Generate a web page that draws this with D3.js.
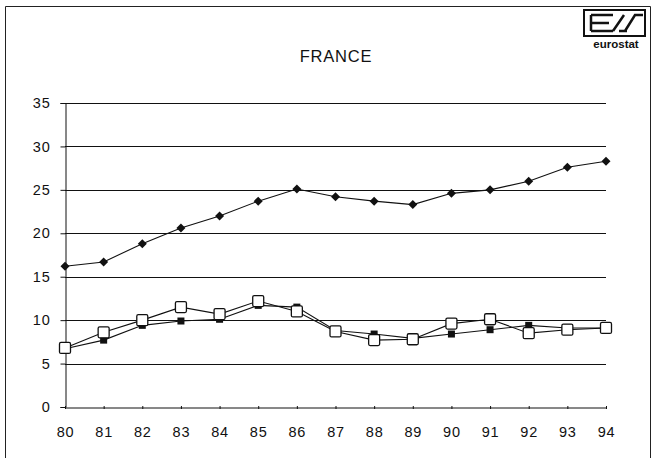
<!DOCTYPE html>
<html><head><meta charset="utf-8">
<script src="https://cdn.jsdelivr.net/npm/d3@7"></script>
<style>body{margin:0;background:#fff}svg{display:block}text{font-family:"Liberation Sans",Arial,sans-serif;fill:#111}</style>
</head><body>
<svg id="c" width="652" height="458"></svg>
<script>
const years = ["80","81","82","83","84","85","86","87","88","89","90","91","92","93","94"];
const seriesDiamond = [16.2,16.7,18.8,20.6,22.0,23.7,25.1,24.2,23.7,23.3,24.6,25.0,26.0,27.6,28.3];
const seriesFilled = [6.7,7.7,9.4,9.9,10.1,11.7,11.5,8.8,8.4,7.9,8.4,8.9,9.4,9.1,9.1];
const seriesOpen = [6.8,8.6,10.0,11.5,10.7,12.2,11.0,8.7,7.7,7.8,9.6,10.1,8.5,8.9,9.1];
const yTicks = [0,5,10,15,20,25,30,35];
const title = "FRANCE";

const svg = d3.select("#c");
const x = d3.scalePoint().domain(years).range([65, 606]);
const y = d3.scaleLinear().domain([0,35]).range([407, 103]);
const FONT = "'Liberation Sans',Arial,sans-serif";

// frame
svg.append("path").attr("d","M5.5,458 V6.5 H650.5 V458").attr("fill","none").attr("stroke","#222").attr("stroke-width",1);

// title
svg.append("text").attr("x",336).attr("y",62).attr("text-anchor","middle").attr("font-size",16.5)
  .attr("letter-spacing",0.8).text(title);

// gridlines
svg.append("g").selectAll("line").data(yTicks.filter(d=>d>0)).join("line")
  .attr("x1",65).attr("x2",606).attr("y1",d=>Math.round(y(d))+0.5).attr("y2",d=>Math.round(y(d))+0.5)
  .attr("stroke","#111").attr("stroke-width",1);

// y axis
const yAxis = d3.axisLeft(y).tickValues(yTicks).tickSize(5).tickPadding(10).tickFormat(d3.format("d"));
const gy = svg.append("g").attr("transform","translate(65.5,0)").call(yAxis);
gy.select(".domain").attr("stroke","#111");
gy.selectAll("line").attr("stroke","#111");
gy.selectAll("text").attr("font-size",14.5).attr("fill","#111").attr("letter-spacing",0.8).style("font-family",FONT);

// x axis
const xAxis = d3.axisBottom(x).tickSize(3).tickSizeOuter(0).tickPadding(16);
const gx = svg.append("g").attr("transform","translate(0,"+(Math.round(y(0))+0.5)+")").call(xAxis);
gx.select(".domain").attr("stroke","#111");
gx.selectAll(".tick line").attr("stroke","#111").attr("y1",-1.5).attr("y2",1.5);
gx.selectAll("text").attr("font-size",14.5).attr("fill","#111").attr("letter-spacing",0.8).style("font-family",FONT);

const line = d3.line().x((d,i)=>x(years[i])).y(d=>y(d));
function drawLine(data){
  svg.append("path").datum(data).attr("d",line).attr("fill","none").attr("stroke","#111").attr("stroke-width",1.1);
}
drawLine(seriesFilled);
drawLine(seriesOpen);
drawLine(seriesDiamond);

// filled squares
svg.append("g").selectAll("rect").data(seriesFilled).join("rect")
  .attr("x",(d,i)=>x(years[i])-3.5).attr("y",d=>y(d)-3.5).attr("width",7).attr("height",7).attr("fill","#111");
// open squares
svg.append("g").selectAll("rect").data(seriesOpen).join("rect")
  .attr("x",(d,i)=>x(years[i])-5.5).attr("y",d=>y(d)-5.5).attr("width",11).attr("height",11).attr("rx",1.5)
  .attr("fill","#fff").attr("stroke","#111").attr("stroke-width",1.3);
// diamonds
svg.append("g").selectAll("path").data(seriesDiamond).join("path")
  .attr("transform",(d,i)=>"translate("+x(years[i])+","+y(d)+")").attr("d","M0,-4.5 L4.5,0 L0,4.5 L-4.5,0 Z").attr("fill","#111");

// eurostat logo
const lg = svg.append("g").attr("transform","translate(583,9)");
lg.append("rect").attr("x",1).attr("y",1).attr("width",61).attr("height",26).attr("fill","none").attr("stroke","#111").attr("stroke-width",2);
lg.append("path").attr("d","M8,6 H30 M8,14 H26 M8,22 H30 M8,6 V22").attr("stroke","#111").attr("stroke-width",2.5).attr("fill","none");
lg.append("path").attr("d","M30,22 L41,6 M42,22 L52,6 H60 M36,22 H44").attr("stroke","#111").attr("stroke-width",2.5).attr("fill","none");
lg.append("text").attr("x",33).attr("y",39).attr("text-anchor","middle").attr("font-size",11.5).attr("font-weight","bold").text("eurostat");
</script>
</body></html>
